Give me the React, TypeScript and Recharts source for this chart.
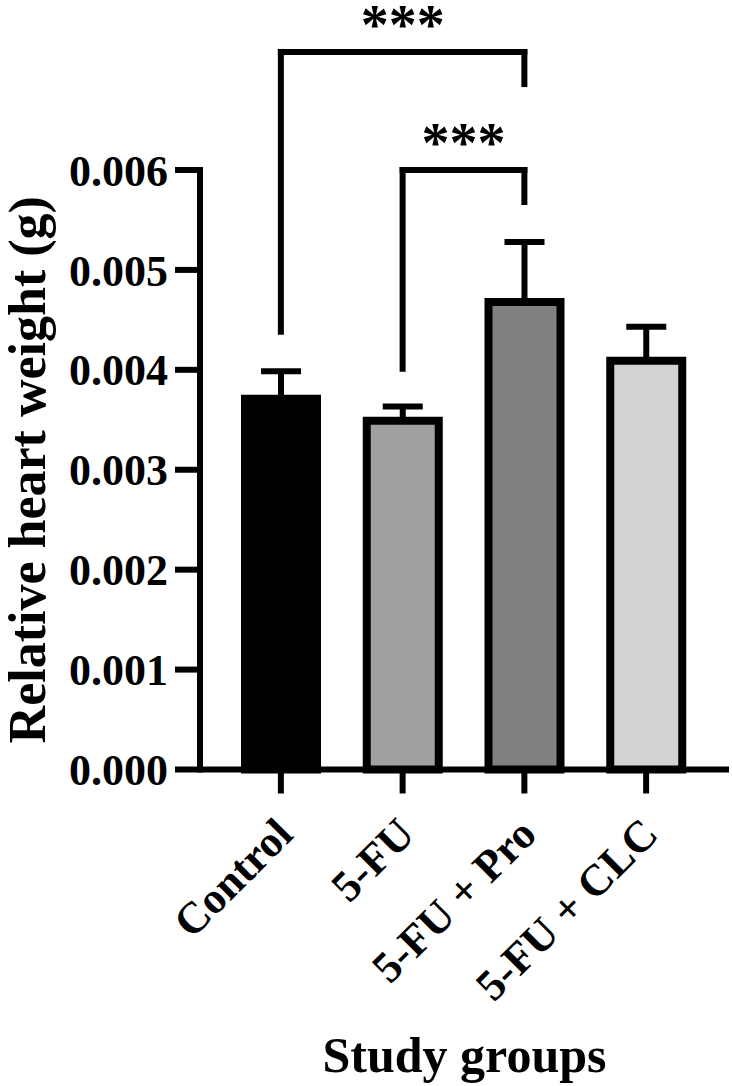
import { BarChart, Bar, XAxis, YAxis, Cell, ErrorBar, ReferenceLine, Label } from 'recharts';

const groups = ['Control', '5-FU', '5-FU + Pro', '5-FU + CLC'];
const meanWeight = [0.00371, 0.00349, 0.00468, 0.00409];
const semWeight = [0.000275, 0.000144, 0.0006, 0.00034];
const barColors = ['#000000', '#a0a0a0', '#808080', '#d3d3d3'];
const yTicks = [0, 0.001, 0.002, 0.003, 0.004, 0.005, 0.006];

// significance brackets (left group, right group, top, leg ends)
const sigLeft = ['Control', '5-FU'];
const sigRight = ['5-FU + Pro', '5-FU + Pro'];
const sigTop = [0.00718, 0.006];
const sigLeftEnd = [0.00438, 0.00401];
const sigRightEnd = [0.00686, 0.00568];
const sigText = ['***', '***'];

const serif = '"Liberation Serif", "Times New Roman", serif';

const data = groups.map((g, i) => ({
  group: g,
  mean: meanWeight[i],
  err: [0, semWeight[i]],
}));

function GroupTick(props: any) {
  const { x, y, payload } = props;
  return (
    <text
      x={x - 8}
      y={y}
      dy="0.71em"
      transform={`rotate(-45, ${x - 8}, ${y})`}
      textAnchor="end"
      fontFamily={serif}
      fontWeight="bold"
      fontSize={44}
      fill="#000"
    >
      {payload.value}
    </text>
  );
}

function Stars(props: any) {
  const vb = props.viewBox || props;
  return (
    <text
      x={vb.x + vb.width / 2}
      y={vb.y - 8}
      textAnchor="middle"
      fontFamily={serif}
      fontWeight="bold"
      fontSize={56}
      fill="#000"
    >
      {props.value}
    </text>
  );
}

function YTitle(props: any) {
  const vb = props.viewBox;
  const cy = vb.y + vb.height / 2;
  return (
    <text
      x={45}
      y={cy}
      transform={`rotate(-90, 45, ${cy})`}
      textAnchor="middle"
      fontFamily={serif}
      fontWeight="bold"
      fontSize={52}
      fill="#000"
    >
      Relative heart weight (g)
    </text>
  );
}

function XTitle(props: any) {
  const vb = props.viewBox;
  return (
    <text
      x={vb.x + vb.width / 2}
      y={vb.y + 302}
      textAnchor="middle"
      fontFamily={serif}
      fontWeight="bold"
      fontSize={50}
      fill="#000"
    >
      Study groups
    </text>
  );
}

const lineStyle = { stroke: '#000', strokeWidth: 6, strokeLinecap: 'square' as const };

export default function App() {
  return (
    <div style={{ position: 'absolute', left: 0, top: 0, background: '#fff' }}>
      <BarChart
        width={732}
        height={1086}
        data={data}
        margin={{ top: 170, right: 3, bottom: 16.5, left: 0 }}
      >
        <XAxis
          dataKey="group"
          interval={0}
          height={300}
          padding={{ left: 20, right: 22 }}
          tickSize={24}
          tickMargin={21}
          axisLine={{ stroke: '#000', strokeWidth: 6 }}
          tickLine={{ stroke: '#000', strokeWidth: 6 }}
          tick={<GroupTick />}
        >
          <Label content={<XTitle />} />
        </XAxis>
        <YAxis
          width={200}
          domain={[0, 0.006]}
          ticks={yTicks}
          interval={0}
          tickSize={25}
          tickMargin={7}
          tickFormatter={(v: number) => v.toFixed(3)}
          axisLine={{ stroke: '#000', strokeWidth: 6, strokeLinecap: 'square' }}
          tickLine={{ stroke: '#000', strokeWidth: 6 }}
          tick={{ fontFamily: serif, fontWeight: 'bold', fontSize: 44, fill: '#000' }}
        >
          <Label content={<YTitle />} />
        </YAxis>
        <Bar dataKey="mean" barSize={72} stroke="#000" strokeWidth={8} isAnimationActive={false}>
          {data.map((d, i) => (
            <Cell key={d.group} fill={barColors[i]} />
          ))}
          <ErrorBar dataKey="err" width={20} stroke="#000" strokeWidth={6} direction="y" />
        </Bar>
        {sigLeft.map((left, i) => (
          <ReferenceLine
            key={`l${i}`}
            ifOverflow="visible"
            segment={[
              { x: left, y: sigLeftEnd[i] },
              { x: left, y: sigTop[i] },
            ]}
            {...lineStyle}
          />
        ))}
        {sigLeft.map((left, i) => (
          <ReferenceLine
            key={`t${i}`}
            ifOverflow="visible"
            segment={[
              { x: left, y: sigTop[i] },
              { x: sigRight[i], y: sigTop[i] },
            ]}
            {...lineStyle}
          >
            <Label value={sigText[i]} content={<Stars />} />
          </ReferenceLine>
        ))}
        {sigRight.map((right, i) => (
          <ReferenceLine
            key={`r${i}`}
            ifOverflow="visible"
            segment={[
              { x: right, y: sigTop[i] },
              { x: right, y: sigRightEnd[i] },
            ]}
            {...lineStyle}
          />
        ))}
      </BarChart>
    </div>
  );
}
